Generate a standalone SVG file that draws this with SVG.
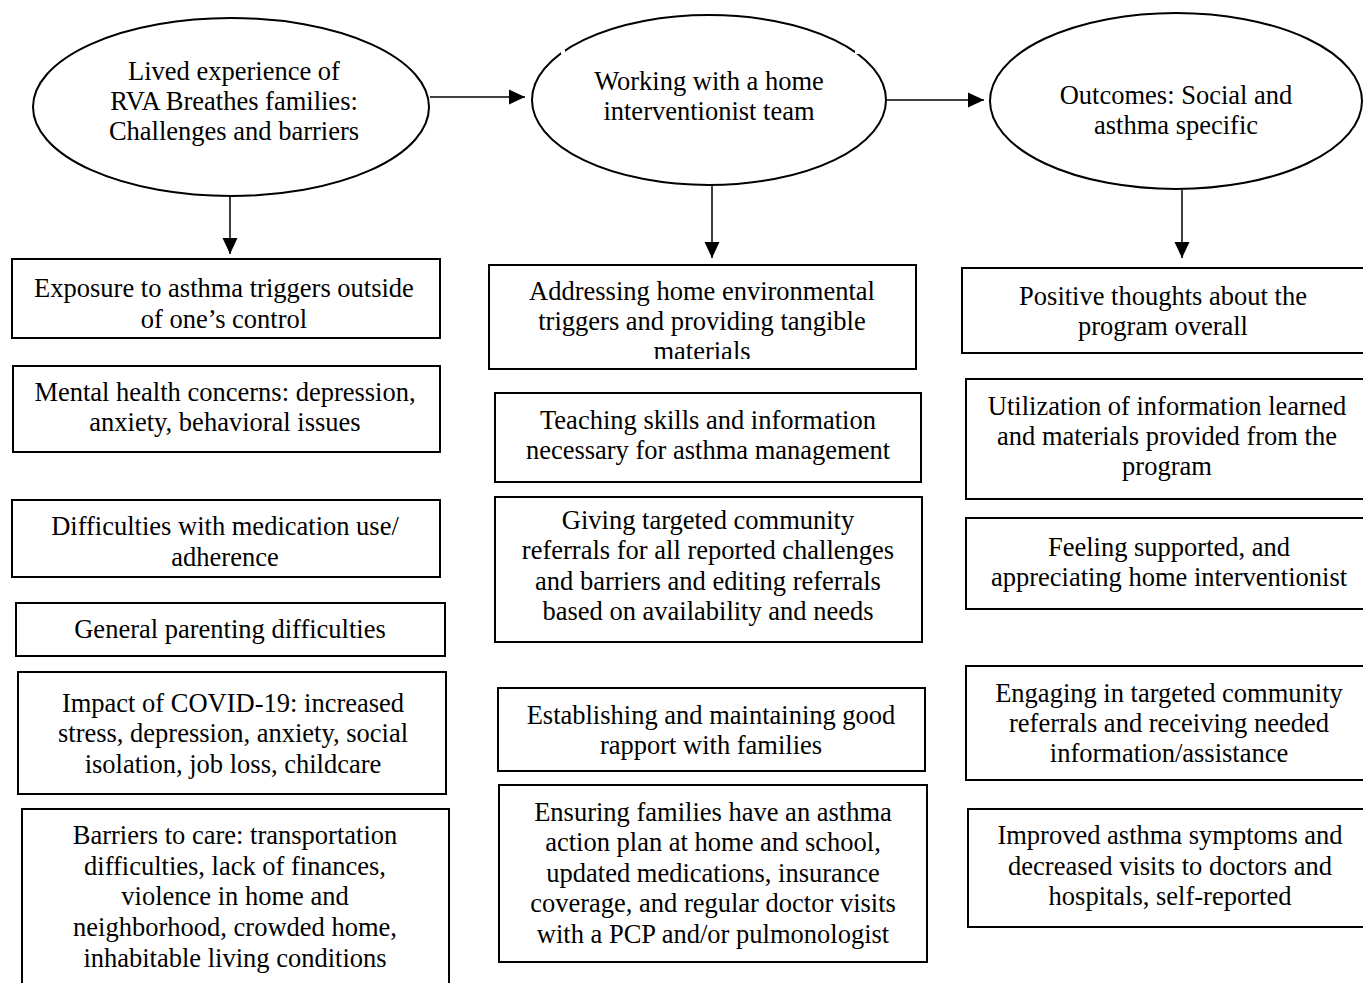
<svg xmlns="http://www.w3.org/2000/svg" width="1363" height="983" viewBox="0 0 1363 983">
<defs>
<style>
.n{fill:#fff;stroke:#000;stroke-width:2}
.t{font-family:"Liberation Serif","Times New Roman",serif;font-size:26.5px;fill:#000;text-anchor:middle}
.c{stroke:#000;stroke-width:1.5;fill:none;marker-end:url(#ah)}
</style>
<marker id="ah" viewBox="0 0 16 16" refX="16" refY="8" markerWidth="16" markerHeight="16" markerUnits="userSpaceOnUse" orient="auto">
<path d="M0,0.5 L16,8 L0,15.5 z" fill="#000"/>
</marker>
<clipPath id="clipA"><rect x="489" y="265" width="427" height="94"/></clipPath>
</defs>
<rect width="1363" height="983" fill="#fff"/>
<g id="connectors">
<line class="c" x1="430" y1="97" x2="525" y2="97"/>
<line class="c" x1="887" y1="100" x2="984" y2="100"/>
<line class="c" x1="230" y1="197" x2="230" y2="254"/>
<line class="c" x1="712" y1="186" x2="712" y2="258"/>
<line class="c" x1="1182" y1="190" x2="1182" y2="258"/>
</g>
<g id="e1"><ellipse class="n" cx="231" cy="107" rx="198" ry="89"/>
<text class="t"><tspan x="234" y="80">Lived experience of</tspan><tspan x="234" y="110">RVA Breathes families:</tspan><tspan x="234" y="140">Challenges and barriers</tspan></text></g>
<g id="e2"><ellipse class="n" cx="709" cy="100" rx="177" ry="85"/>
<rect x="561" y="50" width="4" height="4" fill="#fff"/>
<rect x="855" y="50" width="4" height="4" fill="#fff"/>
<text class="t"><tspan x="709" y="90">Working with a home</tspan><tspan x="709" y="120">interventionist team</tspan></text></g>
<g id="e3"><ellipse class="n" cx="1176" cy="101" rx="186" ry="88"/>
<text class="t"><tspan x="1176" y="104">Outcomes: Social and</tspan><tspan x="1176" y="134">asthma specific</tspan></text></g>

<g id="l1"><rect class="n" x="12" y="259" width="428" height="79"/>
<text class="t"><tspan x="224" y="297">Exposure to asthma triggers outside</tspan><tspan x="224" y="328">of one’s control</tspan></text></g>
<g id="l2"><rect class="n" x="13" y="366" width="427" height="86"/>
<text class="t"><tspan x="225" y="401">Mental health concerns: depression,</tspan><tspan x="225" y="431">anxiety, behavioral issues</tspan></text></g>
<g id="l3"><rect class="n" x="12" y="500" width="428" height="77"/>
<text class="t"><tspan x="225" y="535">Difficulties with medication use/</tspan><tspan x="225" y="566">adherence</tspan></text></g>
<g id="l4"><rect class="n" x="16" y="603" width="429" height="53"/>
<text class="t"><tspan x="230" y="638">General parenting difficulties</tspan></text></g>
<g id="l5"><rect class="n" x="18" y="672" width="428" height="122"/>
<text class="t"><tspan x="233" y="712">Impact of COVID-19: increased</tspan><tspan x="233" y="742">stress, depression, anxiety, social</tspan><tspan x="233" y="773">isolation, job loss, childcare</tspan></text></g>
<g id="l6"><rect class="n" x="22" y="809" width="427" height="190"/>
<text class="t"><tspan x="235" y="844">Barriers to care: transportation</tspan><tspan x="235" y="875">difficulties, lack of finances,</tspan><tspan x="235" y="905">violence in home and</tspan><tspan x="235" y="936">neighborhood, crowded home,</tspan><tspan x="235" y="967">inhabitable living conditions</tspan></text></g>

<g id="m1"><rect class="n" x="489" y="265" width="427" height="104"/>
<text class="t" clip-path="url(#clipA)"><tspan x="702" y="300">Addressing home environmental</tspan><tspan x="702" y="330">triggers and providing tangible</tspan><tspan x="702" y="360">materials</tspan></text></g>
<g id="m2"><rect class="n" x="495" y="393" width="426" height="89"/>
<text class="t"><tspan x="708" y="429">Teaching skills and information</tspan><tspan x="708" y="459">necessary for asthma management</tspan></text></g>
<g id="m3"><rect class="n" x="495" y="497" width="427" height="145"/>
<text class="t"><tspan x="708" y="529">Giving targeted community</tspan><tspan x="708" y="559">referrals for all reported challenges</tspan><tspan x="708" y="590">and barriers and editing referrals</tspan><tspan x="708" y="620">based on availability and needs</tspan></text></g>
<g id="m4"><rect class="n" x="498" y="688" width="427" height="83"/>
<text class="t"><tspan x="711" y="724">Establishing and maintaining good</tspan><tspan x="711" y="754">rapport with families</tspan></text></g>
<g id="m5"><rect class="n" x="499" y="785" width="428" height="177"/>
<text class="t"><tspan x="713" y="821">Ensuring families have an asthma</tspan><tspan x="713" y="851">action plan at home and school,</tspan><tspan x="713" y="882">updated medications, insurance</tspan><tspan x="713" y="912">coverage, and regular doctor visits</tspan><tspan x="713" y="943">with a PCP and/or pulmonologist</tspan></text></g>

<g id="r1"><rect class="n" x="962" y="268" width="410" height="85"/>
<text class="t"><tspan x="1163" y="305">Positive thoughts about the</tspan><tspan x="1163" y="335">program overall</tspan></text></g>
<g id="r2"><rect class="n" x="966" y="379" width="406" height="120"/>
<text class="t"><tspan x="1167" y="415">Utilization of information learned</tspan><tspan x="1167" y="445">and materials provided from the</tspan><tspan x="1167" y="475">program</tspan></text></g>
<g id="r3"><rect class="n" x="966" y="518" width="406" height="91"/>
<text class="t"><tspan x="1169" y="556">Feeling supported, and</tspan><tspan x="1169" y="586">appreciating home interventionist</tspan></text></g>
<g id="r4"><rect class="n" x="966" y="666" width="406" height="114"/>
<text class="t"><tspan x="1169" y="702">Engaging in targeted community</tspan><tspan x="1169" y="732">referrals and receiving needed</tspan><tspan x="1169" y="762">information/assistance</tspan></text></g>
<g id="r5"><rect class="n" x="968" y="809" width="404" height="118"/>
<text class="t"><tspan x="1170" y="844">Improved asthma symptoms and</tspan><tspan x="1170" y="875">decreased visits to doctors and</tspan><tspan x="1170" y="905">hospitals, self-reported</tspan></text></g>
</svg>
